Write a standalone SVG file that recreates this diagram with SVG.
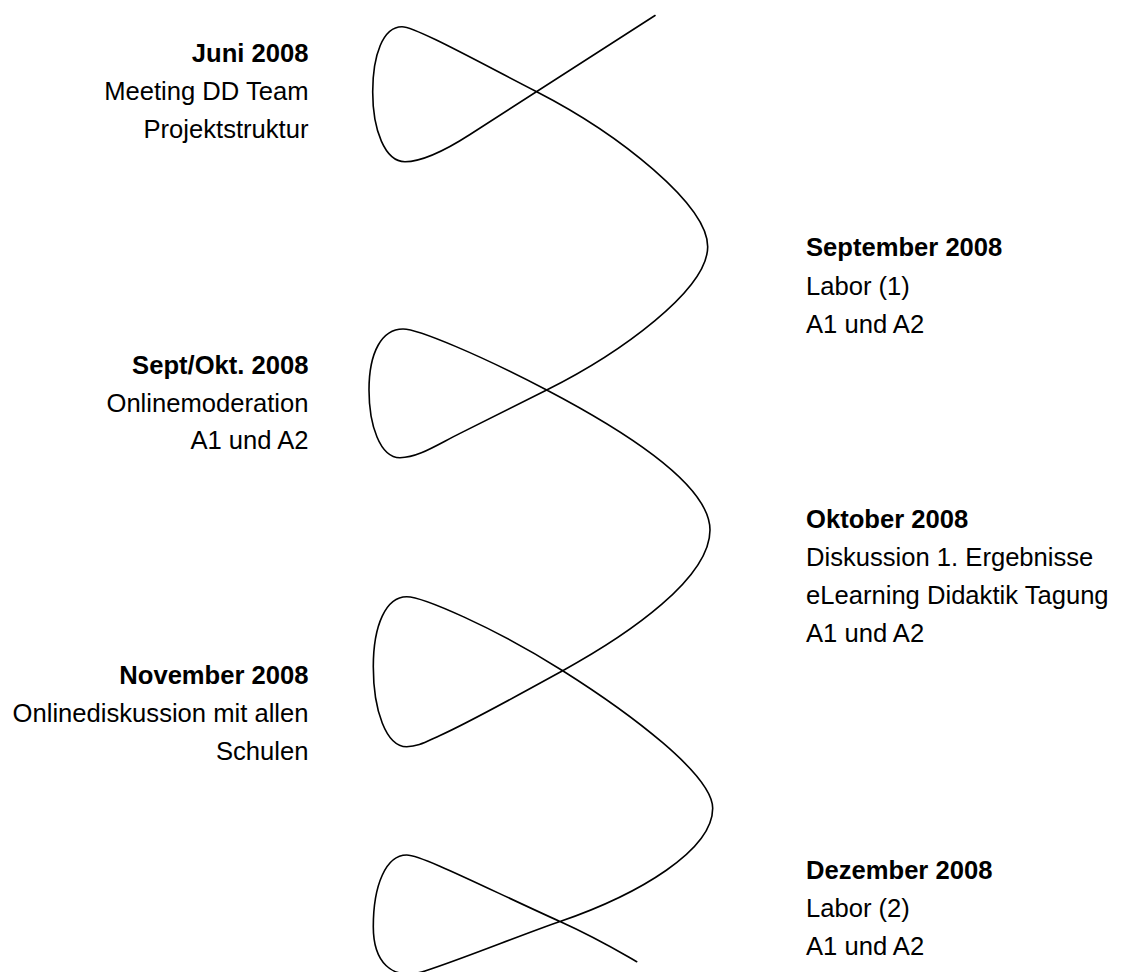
<svg xmlns="http://www.w3.org/2000/svg" width="1123" height="972" viewBox="0 0 1123 972">
<style>
  text { font-family: "Liberation Sans", Arial, sans-serif; font-size: 25.6px; fill: #000; }
  .t { font-weight: bold; }
  .l { text-anchor: end; }
  .curve { fill: none; stroke: #000; stroke-width: 1.6; stroke-linecap: round; stroke-linejoin: round; }
</style>
<rect width="1123" height="972" fill="#fff"/>
<g id="connectors">
  <path class="curve" d="M655,15.5 L470,134.5 C440,153.8 420,161.7 405,161.7 C385,161.7 372.7,130 372.7,92 C372.7,55 383,26.7 402,26.7 C415,26.7 475,60 536.7,91.7 C620,134.5 707.7,205 707.7,246.7 C707.7,290 620,353.3 546.7,390 L460,433.4 C436,445.4 418,457.7 400,457.7 C380,457.7 369,425 369,390 C369,352 382,329 403,329 C418,329 480,355 546.7,390 C626.7,432 710,485 710,530 C710,578 630,633.7 562.7,670.7 C520,694.2 470,722 440,735.5 C425,742.3 418,746.7 406.7,746.7 C386,746.7 373.3,710 373.3,666.7 C373.3,625 386,596.7 406.7,596.7 C422,596.7 492.7,626.5 562.7,670.7 C630,713.2 712.7,775 712.7,808.3 C712.7,850 640,894 560,921.5 C520,935.3 465,958 425,971 C390,982 373.3,960 373.3,926.7 C373.3,885 386,855 406.7,855 C422,855 490,890 560,921.5 C598,938.6 618,951 636.7,961.7"/>
</g>
<g id="node-juni">
  <text class="t l" x="308.5" y="62">Juni 2008</text>
  <text class="l" x="308.5" y="100">Meeting DD Team</text>
  <text class="l" x="308.5" y="137.5">Projektstruktur</text>
</g>
<g id="node-september">
  <text class="t" x="806" y="256">September 2008</text>
  <text x="806" y="294.5">Labor (1)</text>
  <text x="806" y="333">A1 und A2</text>
</g>
<g id="node-septokt">
  <text class="t l" x="308.5" y="373.5">Sept/Okt. 2008</text>
  <text class="l" x="308.5" y="411.5">Onlinemoderation</text>
  <text class="l" x="308.5" y="448.5">A1 und A2</text>
</g>
<g id="node-oktober">
  <text class="t" x="806" y="528">Oktober 2008</text>
  <text x="806" y="566">Diskussion 1. Ergebnisse</text>
  <text x="806" y="604">eLearning Didaktik Tagung</text>
  <text x="806" y="642">A1 und A2</text>
</g>
<g id="node-november">
  <text class="t l" x="308.5" y="683.5">November 2008</text>
  <text class="l" x="308.5" y="721.5">Onlinediskussion mit allen</text>
  <text class="l" x="308.5" y="759.5">Schulen</text>
</g>
<g id="node-dezember">
  <text class="t" x="806" y="879">Dezember 2008</text>
  <text x="806" y="917">Labor (2)</text>
  <text x="806" y="955">A1 und A2</text>
</g>
</svg>
